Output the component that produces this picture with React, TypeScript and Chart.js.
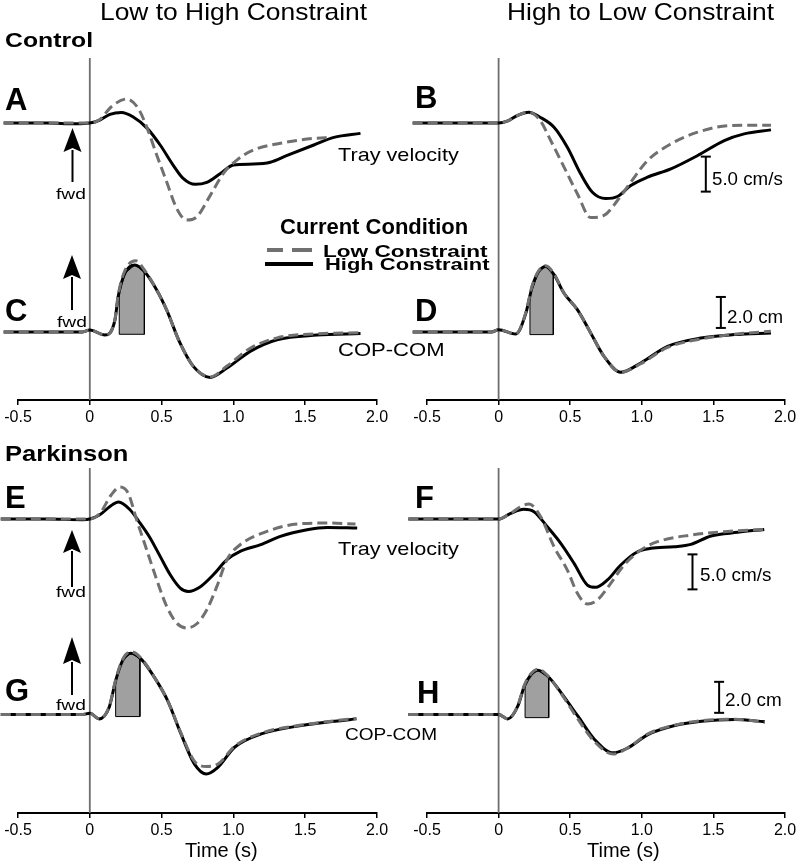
import React, { useEffect, useRef } from 'react';
import { Chart, registerables } from 'chart.js';

Chart.register(...registerables);

const FONT = "'Liberation Sans', Arial, Helvetica, sans-serif";
Chart.defaults.font.family = FONT;

type P = [number, number][];

// ---------- x axis ----------
const xTickValues = [-0.5, 0, 0.5, 1.0, 1.5, 2.0];
const xTickLabels = ['-0.5', '0', '0.5', '1.0', '1.5', '2.0'];

// ---------- Control, Low -> High (A: tray velocity cm/s, C: COP-COM cm) ----------
const velA_low: P = [[-0.6, 0], [-0.3, 0], [0, 0], [0.07, 0.5], [0.15, 2.33], [0.256, 3.43], [0.337, 2.1], [0.4, -0.76], [0.466, -4.57], [0.535, -8.38], [0.605, -12.2], [0.675, -13.86], [0.745, -13.4], [0.84, -10.3], [0.93, -7.19], [1.024, -5.29], [1.14, -3.86], [1.327, -2.9], [1.56, -2.19], [1.68, -2.1]];
const velA_high: P = [[-0.6, 0], [-0.3, 0], [-0.1, -0.1], [0, 0], [0.07, 0.43], [0.14, 1.24], [0.22, 1.52], [0.3, 0.9], [0.4, -0.76], [0.49, -3.14], [0.58, -6.0], [0.65, -7.9], [0.733, -8.76], [0.815, -8.48], [0.91, -7.2], [1.0, -6.0], [1.14, -5.86], [1.257, -5.6], [1.37, -4.67], [1.56, -3.14], [1.7, -2.05], [1.885, -1.48]];
const copC_low: P = [[-0.6, 0], [-0.05, 0], [0, 0.13], [0.105, -0.2], [0.175, 0.8], [0.198, 2.4], [0.244, 3.95], [0.32, 4.6], [0.38, 4.0], [0.466, 2.71], [0.535, 1.42], [0.628, -0.71], [0.721, -2.22], [0.838, -2.9], [0.955, -2.2], [1.117, -1.05], [1.304, -0.38], [1.583, -0.12], [1.885, -0.05]];
const copC_high: P = [[-0.6, 0], [-0.05, 0], [0, 0.13], [0.105, -0.2], [0.175, 0.77], [0.198, 2.3], [0.244, 3.78], [0.314, 4.32], [0.38, 3.9], [0.466, 2.71], [0.535, 1.42], [0.628, -0.71], [0.721, -2.22], [0.838, -2.93], [0.955, -2.33], [1.117, -1.25], [1.304, -0.5], [1.583, -0.2], [1.885, -0.1]];
const shadeC: P = [[0.205, -0.15], [0.205, 2.45], [0.244, 3.78], [0.314, 4.32], [0.38, 3.9], [0.38, -0.15], [0.205, -0.15]];

// ---------- Control, High -> Low (B, D) ----------
const velB_low: P = [[-0.6, 0], [0, 0], [0.06, 0.26], [0.13, 1.07], [0.21, 1.55], [0.29, 0.36], [0.364, -2.5], [0.457, -6.3], [0.55, -10.1], [0.643, -13.5], [0.736, -13.2], [0.83, -11.07], [0.923, -8.45], [1.04, -5.36], [1.203, -2.98], [1.39, -1.31], [1.622, -0.36], [1.902, -0.3]];
const velB_high: P = [[-0.6, 0], [0, 0], [0.06, 0.26], [0.13, 1.07], [0.21, 1.55], [0.29, 0.83], [0.387, -0.6], [0.48, -3.46], [0.573, -7.26], [0.655, -9.9], [0.748, -10.8], [0.83, -10.5], [0.923, -8.93], [1.04, -7.74], [1.203, -6.55], [1.39, -4.64], [1.576, -2.5], [1.715, -1.55], [1.902, -0.98]];
const copD_low: P = [[-0.6, 0], [-0.05, 0], [0, 0.15], [0.12, -0.13], [0.19, 1.25], [0.235, 3.0], [0.28, 3.95], [0.33, 4.28], [0.387, 3.75], [0.457, 2.5], [0.55, 1.44], [0.643, -0.06], [0.736, -1.57], [0.853, -2.6], [0.993, -2.05], [1.18, -1.0], [1.413, -0.45], [1.646, -0.15], [1.902, 0.05]];
const copD_high: P = [[-0.6, 0], [-0.05, 0], [0, 0.15], [0.12, -0.13], [0.19, 1.2], [0.235, 2.94], [0.28, 3.9], [0.33, 4.23], [0.387, 3.7], [0.457, 2.5], [0.55, 1.44], [0.643, -0.06], [0.736, -1.57], [0.853, -2.6], [0.993, -2.0], [1.18, -0.93], [1.413, -0.39], [1.646, -0.17], [1.902, -0.06]];
const shadeD: P = [[0.219, -0.17], [0.219, 2.3], [0.28, 3.9], [0.33, 4.23], [0.382, 3.7], [0.382, -0.17], [0.219, -0.17]];

// ---------- Parkinson, Low -> High (E, G) ----------
const velE_low: P = [[-0.62, 0], [-0.3, 0], [0, 0], [0.07, 0.8], [0.15, 3.47], [0.21, 4.57], [0.267, 3.7], [0.326, -0.1], [0.396, -4.39], [0.466, -8.67], [0.536, -12.5], [0.605, -14.86], [0.675, -15.57], [0.745, -14.96], [0.815, -12.96], [0.885, -9.63], [0.955, -5.81], [1.047, -3.67], [1.234, -1.77], [1.443, -0.71], [1.653, -0.57], [1.85, -0.71]];
const velE_high: P = [[-0.62, 0], [-0.3, 0], [-0.05, -0.1], [0, 0], [0.07, 0.6], [0.14, 1.8], [0.2, 2.43], [0.28, 1.33], [0.35, -0.57], [0.42, -2.7], [0.49, -5.34], [0.56, -7.96], [0.63, -9.86], [0.686, -10.34], [0.768, -9.7], [0.86, -7.96], [0.955, -5.81], [1.047, -4.62], [1.19, -3.67], [1.327, -2.48], [1.513, -1.53], [1.653, -1.2], [1.862, -1.29]];
const copG_low: P = [[-0.62, 0], [-0.05, 0], [0, 0.09], [0.065, -0.28], [0.135, 0.5], [0.18, 2.25], [0.228, 3.55], [0.286, 4.05], [0.356, 3.65], [0.449, 2.41], [0.542, 0.9], [0.635, -1.2], [0.728, -3.0], [0.81, -3.35], [0.892, -3.2], [1.008, -2.05], [1.194, -1.2], [1.473, -0.68], [1.706, -0.4], [1.857, -0.25]];
const copG_high: P = [[-0.62, 0], [-0.05, 0], [0, 0.09], [0.065, -0.28], [0.135, 0.47], [0.18, 2.19], [0.228, 3.48], [0.286, 3.96], [0.356, 3.59], [0.449, 2.41], [0.542, 0.9], [0.635, -1.25], [0.728, -3.18], [0.81, -3.83], [0.892, -3.4], [1.008, -2.11], [1.194, -1.25], [1.473, -0.71], [1.706, -0.43], [1.857, -0.28]];
const shadeG: P = [[0.18, -0.13], [0.18, 2.19], [0.228, 3.48], [0.286, 3.96], [0.349, 3.62], [0.349, -0.13], [0.18, -0.13]];

// ---------- Parkinson, High -> Low (F, H) ----------
const velF_low: P = [[-0.63, 0], [0, 0], [0.084, 0.81], [0.154, 1.76], [0.212, 2.14], [0.294, 0.33], [0.387, -3.96], [0.48, -7.29], [0.55, -10.6], [0.62, -12.14], [0.69, -11.57], [0.783, -9.19], [0.876, -6.57], [0.993, -4.43], [1.11, -3.24], [1.343, -2.29], [1.576, -1.81], [1.855, -1.48]];
const velF_high: P = [[-0.63, 0], [0, 0], [0.084, 0.81], [0.177, 1.38], [0.247, 1.05], [0.34, -1.1], [0.434, -3.47], [0.527, -6.33], [0.62, -9.43], [0.678, -9.76], [0.76, -8.71], [0.853, -6.57], [0.97, -4.67], [1.063, -4.19], [1.226, -3.96], [1.343, -3.62], [1.483, -2.43], [1.67, -1.9], [1.855, -1.48]];
const copH_low: P = [[-0.63, 0], [-0.05, 0], [0, 0], [0.064, -0.28], [0.134, 0.58], [0.18, 1.9], [0.227, 2.65], [0.274, 2.92], [0.344, 2.5], [0.437, 1.35], [0.554, -0.3], [0.67, -1.75], [0.8, -2.55], [0.903, -2.15], [1.043, -1.25], [1.23, -0.68], [1.416, -0.4], [1.65, -0.3], [1.86, -0.5]];
const copH_high: P = [[-0.63, 0], [-0.05, 0], [0, 0], [0.064, -0.28], [0.134, 0.54], [0.18, 1.83], [0.227, 2.58], [0.274, 2.86], [0.344, 2.47], [0.437, 1.4], [0.554, -0.11], [0.67, -1.61], [0.8, -2.47], [0.903, -2.15], [1.043, -1.29], [1.23, -0.71], [1.416, -0.43], [1.65, -0.32], [1.86, -0.47]];
const shadeH: P = [[0.185, -0.2], [0.185, 1.9], [0.227, 2.58], [0.274, 2.86], [0.35, 2.4], [0.35, -0.2], [0.185, -0.2]];

// ---------- scale bars (5.0 cm/s on velocity axis, 2.0 cm on COP-COM axis) ----------
const barB: P = [[1.447, -9.8], [1.447, -4.8]];
const barD: P = [[1.552, 0.26], [1.552, 2.26]];
const barF: P = [[1.354, -10.05], [1.354, -5.05]];
const barH: P = [[1.54, 0.11], [1.54, 2.11]];

const GRAY = '#707070';

const pts = (p: P) => p.map(([x, y]) => ({ x, y }));

const zeroLine = {
  id: 'zeroLine',
  beforeDatasetsDraw(chart: any) {
    const { ctx, chartArea, scales } = chart;
    const px = scales.x.getPixelForValue(0);
    ctx.save();
    ctx.strokeStyle = '#6e6e6e';
    ctx.lineWidth = 1.8;
    ctx.beginPath();
    ctx.moveTo(px, chartArea.top);
    ctx.lineTo(px, chartArea.bottom);
    ctx.stroke();
    ctx.restore();
  },
};

interface Bar { data: P; axis: 'yv' | 'yc' }

interface PanelProps {
  left: number; top: number; width: number; height: number;
  padL: number; padR: number;
  velLow: P; velHigh: P; copLow: P; copHigh: P; shade: P;
  bars: Bar[];
  velRange: [number, number]; copRange: [number, number];
}

function TracePanel(p: PanelProps) {
  const ref = useRef<HTMLCanvasElement>(null);
  useEffect(() => {
    const trace = (data: P, axis: string, low: boolean) => ({
      data: pts(data),
      yAxisID: axis,
      borderColor: low ? GRAY : '#000',
      borderWidth: 3,
      borderDash: low ? [10, 5] : [],
      pointRadius: 0,
      cubicInterpolationMode: 'monotone',
      fill: false,
      clip: false,
      order: low ? 0 : 1,
    });
    const barSets = p.bars.map((b) => ({
      data: pts(b.data),
      yAxisID: b.axis,
      borderColor: '#000',
      borderWidth: 2,
      pointStyle: 'line',
      pointRadius: 5,
      pointBorderWidth: 2,
      pointBorderColor: '#000',
      tension: 0,
      fill: false,
      clip: false,
      order: 0,
    }));
    const chart = new Chart(ref.current!, {
      type: 'line',
      data: {
        datasets: [
          trace(p.velLow, 'yv', true),
          trace(p.copLow, 'yc', true),
          trace(p.velHigh, 'yv', false),
          trace(p.copHigh, 'yc', false),
          {
            data: pts(p.shade),
            yAxisID: 'yc',
            borderColor: '#000',
            borderWidth: 1,
            backgroundColor: '#a0a0a0',
            fill: 'shape',
            tension: 0,
            pointRadius: 0,
            clip: false,
            order: 2,
          },
          ...barSets,
        ] as any,
      },
      options: {
        animation: false,
        responsive: false,
        events: [],
        layout: { padding: { left: p.padL, right: p.padR, top: 8, bottom: 0 } },
        plugins: { legend: { display: false }, tooltip: { enabled: false } },
        scales: {
          x: {
            type: 'linear',
            position: 'bottom',
            min: xTickValues[0],
            max: xTickValues[xTickValues.length - 1],
            afterBuildTicks: (scale: any) => {
              scale.ticks = xTickValues.map((v) => ({ value: v }));
            },
            afterFit: (scale: any) => { scale.height = 30; },
            ticks: {
              color: '#000',
              font: { size: 16, family: FONT },
              padding: 3,
              maxRotation: 0,
              autoSkip: false,
              callback: (_v: any, i: number) => xTickLabels[i],
            },
            grid: { drawOnChartArea: false, drawTicks: true, tickLength: 5, color: '#000', lineWidth: 1.5 },
            border: { display: true, color: '#000', width: 2 },
          },
          yv: { type: 'linear', display: false, min: p.velRange[0], max: p.velRange[1] },
          yc: { type: 'linear', display: false, min: p.copRange[0], max: p.copRange[1] },
        },
      } as any,
      plugins: [zeroLine],
    });
    return () => chart.destroy();
  }, []);
  return (
    <canvas
      ref={ref}
      width={p.width}
      height={p.height}
      style={{ position: 'absolute', left: p.left, top: p.top, width: p.width, height: p.height }}
    />
  );
}

function T(props: { x: number; base: number; size: number; bold?: boolean; sx?: number; children: React.ReactNode }) {
  const { x, base, size, bold, sx = 1, children } = props;
  return (
    <div
      style={{
        position: 'absolute',
        left: x,
        top: base - 0.8465 * size,
        fontSize: size,
        lineHeight: `${size}px`,
        fontWeight: bold ? 700 : 400,
        fontFamily: FONT,
        color: '#000',
        whiteSpace: 'nowrap',
        transform: `scaleX(${sx})`,
        transformOrigin: 'left top',
      }}
    >
      {children}
    </div>
  );
}

function Arrow({ x, tip, base, end }: { x: number; tip: number; base: number; end: number }) {
  return (
    <g>
      <line x1={x} y1={base - 2} x2={x} y2={end} stroke="#000" strokeWidth={2} />
      <polygon points={`${x},${tip} ${x - 9},${base} ${x},${base - 4} ${x + 9},${base}`} fill="#000" />
    </g>
  );
}

const topVel: [number, number] = [-39.57, 9.29];
const topCop: [number, number] = [-4.39, 17.68];
const botVel: [number, number] = [-42.0, 7.29];
const botCop: [number, number] = [-6.35, 15.9];

export default function App() {
  return (
    <div style={{ position: 'absolute', left: 0, top: 0, width: 800, height: 862, background: '#fff', overflow: 'hidden' }}>
      <TracePanel left={0} top={50} width={400} height={380} padL={18} padR={23}
        velLow={velA_low} velHigh={velA_high} copLow={copC_low} copHigh={copC_high} shade={shadeC}
        bars={[]} velRange={topVel} copRange={topCop} />
      <TracePanel left={400} top={50} width={400} height={380} padL={27} padR={15}
        velLow={velB_low} velHigh={velB_high} copLow={copD_low} copHigh={copD_high} shade={shadeD}
        bars={[{ data: barB, axis: 'yv' }, { data: barD, axis: 'yc' }]} velRange={topVel} copRange={topCop} />
      <TracePanel left={0} top={460} width={400} height={383} padL={18} padR={23}
        velLow={velE_low} velHigh={velE_high} copLow={copG_low} copHigh={copG_high} shade={shadeG}
        bars={[]} velRange={botVel} copRange={botCop} />
      <TracePanel left={400} top={460} width={400} height={383} padL={27} padR={15}
        velLow={velF_low} velHigh={velF_high} copLow={copH_low} copHigh={copH_high} shade={shadeH}
        bars={[{ data: barF, axis: 'yv' }, { data: barH, axis: 'yc' }]} velRange={botVel} copRange={botCop} />

      <svg width={800} height={862} style={{ position: 'absolute', left: 0, top: 0, pointerEvents: 'none' }}>
        <Arrow x={72.5} tip={128} base={152} end={182} />
        <Arrow x={72} tip={255} base={279} end={310} />
        <Arrow x={72} tip={530} base={553} end={587} />
        <Arrow x={72} tip={637} base={664} end={695} />
        <rect x={267} y={248} width={16} height={4} fill={GRAY} />
        <rect x={292} y={248} width={20} height={4} fill={GRAY} />
        <rect x={265} y={262} width={48} height={4} fill="#000" />
      </svg>

      <T x={100} base={20} size={24} sx={1.1}>Low to High Constraint</T>
      <T x={507} base={20} size={24} sx={1.1}>High to Low Constraint</T>
      <T x={5} base={46.5} size={21} bold sx={1.18}>Control</T>
      <T x={5} base={461.5} size={22} bold sx={1.16}>Parkinson</T>

      <T x={5} base={110} size={31} bold>A</T>
      <T x={415} base={108} size={31} bold>B</T>
      <T x={5} base={321.5} size={31} bold>C</T>
      <T x={415} base={321.5} size={31} bold>D</T>
      <T x={5} base={508} size={31} bold>E</T>
      <T x={415} base={508} size={31} bold>F</T>
      <T x={5} base={701.5} size={31} bold>G</T>
      <T x={417} base={703} size={31} bold>H</T>

      <T x={338} base={161} size={19} sx={1.14}>Tray velocity</T>
      <T x={338} base={555} size={19} sx={1.14}>Tray velocity</T>
      <T x={338} base={356.5} size={19} sx={1.16}>COP-COM</T>
      <T x={345} base={740} size={17} sx={1.12}>COP-COM</T>

      <T x={712} base={185} size={18} sx={1.04}>5.0 cm/s</T>
      <T x={700} base={581.5} size={18} sx={1.05}>5.0 cm/s</T>
      <T x={727} base={323} size={18} sx={1.04}>2.0 cm</T>
      <T x={725} base={706.5} size={18} sx={1.05}>2.0 cm</T>

      <T x={56} base={199} size={15} sx={1.28}>fwd</T>
      <T x={57} base={327} size={15} sx={1.28}>fwd</T>
      <T x={56} base={597} size={15} sx={1.28}>fwd</T>
      <T x={56} base={710} size={15} sx={1.28}>fwd</T>

      <T x={280} base={235} size={22} bold>Current Condition</T>
      <T x={323} base={257} size={17} bold sx={1.33}>Low Constraint</T>
      <T x={325} base={270.5} size={17} bold sx={1.29}>High Constraint</T>

      <T x={185} base={856.5} size={20}>Time (s)</T>
      <T x={587} base={856.5} size={20}>Time (s)</T>
    </div>
  );
}
